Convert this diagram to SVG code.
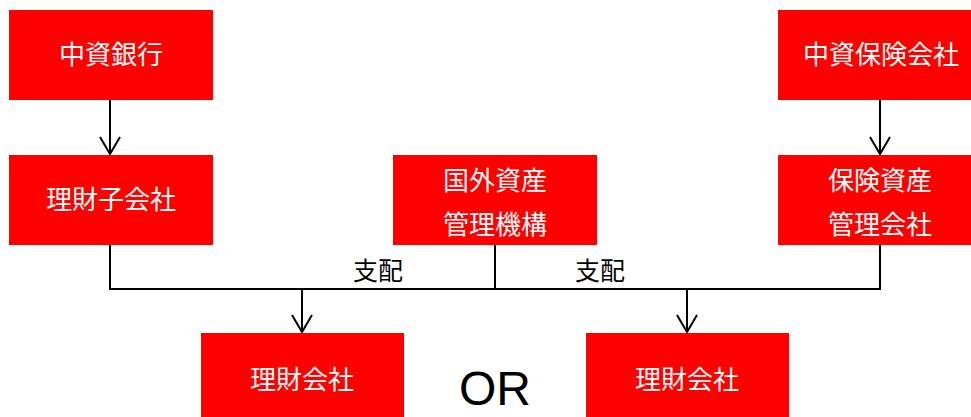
<svg xmlns="http://www.w3.org/2000/svg" width="971" height="417" viewBox="0 0 971 417">
<style>
.box{fill:#ff0000}
.t{fill:#ffffff;font-family:"Noto Sans CJK JP","Noto Sans CJK SC",sans-serif;font-size:26px;text-anchor:middle}
.lbl{fill:#000000;font-family:"Noto Sans CJK JP","Noto Sans CJK SC",sans-serif;font-size:25px;text-anchor:middle}
.ln{fill:none;stroke:#000000;stroke-width:2}
</style>
<g id="connectors">
<line class="ln" x1="110" y1="100" x2="110" y2="154"/>
<path class="ln" d="M100,137 L110,154 L120,137"/>
<line class="ln" x1="880" y1="100" x2="880" y2="154"/>
<path class="ln" d="M870,137 L880,154 L890,137"/>
<path class="ln" d="M110,245 V289 H880 V245 M495,245 V289"/>
<line class="ln" x1="302" y1="289" x2="302" y2="332"/>
<path class="ln" d="M292,315 L302,332 L312,315"/>
<line class="ln" x1="687" y1="289" x2="687" y2="332"/>
<path class="ln" d="M677,315 L687,332 L697,315"/>
<text class="lbl" x="378" y="280">支配</text>
<text class="lbl" x="600" y="280">支配</text>
</g>
<g id="n1"><rect class="box" x="9" y="10" width="204" height="90"/><text class="t" x="111" y="64">中資銀行</text></g>
<g id="n2"><rect class="box" x="778" y="10" width="204" height="90"/><text class="t" x="881" y="64">中資保険会社</text></g>
<g id="n3"><rect class="box" x="9" y="155" width="204" height="90"/><text class="t" x="111" y="209">理財子会社</text></g>
<g id="n4"><rect class="box" x="393" y="155" width="204" height="90"/><text class="t" x="495" y="190">国外資産</text><text class="t" x="495" y="234">管理機構</text></g>
<g id="n5"><rect class="box" x="778" y="155" width="204" height="90"/><text class="t" x="880" y="190">保険資産</text><text class="t" x="880" y="234">管理会社</text></g>
<g id="n6"><rect class="box" x="201" y="333" width="203" height="84"/><text class="t" x="302" y="389">理財会社</text></g>
<g id="n7"><rect class="box" x="586" y="333" width="203" height="84"/><text class="t" x="687" y="389">理財会社</text></g>
<text x="495" y="405" font-family="Liberation Sans, Arial, sans-serif" font-size="48" text-anchor="middle" fill="#000">OR</text>
</svg>
